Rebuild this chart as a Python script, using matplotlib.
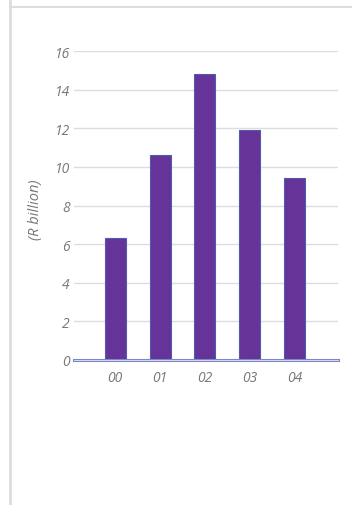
import matplotlib.pyplot as plt
from matplotlib.lines import Line2D

years = ["00", "01", "02", "03", "04"]
values = [6.3, 10.6, 14.8, 11.9, 9.4]
yticks = [0, 2, 4, 6, 8, 10, 12, 14, 16]

plt.rcParams['font.family'] = ['Open Sans', 'DejaVu Sans']

fig = plt.figure(figsize=(3.52, 5.06), dpi=100)
ax = fig.add_axes([74 / 352, 1 - 361 / 506, 264 / 352, 309 / 506])

x = list(range(len(years)))
ax.bar(x, values, width=0.47, color='#663399', edgecolor='#4f5cad', linewidth=0.8, zorder=3)

ax.set_xlim(-0.92, 4.97)
ax.set_ylim(0, 16)
ax.set_yticks(yticks)
ax.set_yticklabels([str(t) for t in yticks])
ax.set_xticks(x)
ax.set_xticklabels(years)
ax.grid(axis='y', color='#dddddd', linewidth=1, zorder=0)
ax.axhline(0, color='#7c87c8', linewidth=2.2, zorder=4, clip_on=False)
ax.axhline(0, color='#e8eaf6', linewidth=0.6, zorder=5, clip_on=False)

for s in ax.spines.values():
    s.set_visible(False)
ax.tick_params(axis='y', length=0, pad=3, labelsize=10, labelcolor='#777777')
ax.tick_params(axis='x', length=0, pad=7, labelsize=10, labelcolor='#777777')
for lab in ax.get_xticklabels() + ax.get_yticklabels():
    lab.set_fontstyle('italic')

ax.set_ylabel("(R billion)", fontsize=10.5, color='#777777', style='italic')
ax.yaxis.set_label_coords(-0.118, 0.49)

# frame lines of the panel
fig.add_artist(Line2D([10 / 352, 10 / 352], [0, 1], color='#dddddd', linewidth=2))
fig.add_artist(Line2D([10 / 352, 1], [1 - 8 / 506, 1 - 8 / 506], color='#dddddd', linewidth=1.5))

fig.savefig('out.png', dpi=100)
